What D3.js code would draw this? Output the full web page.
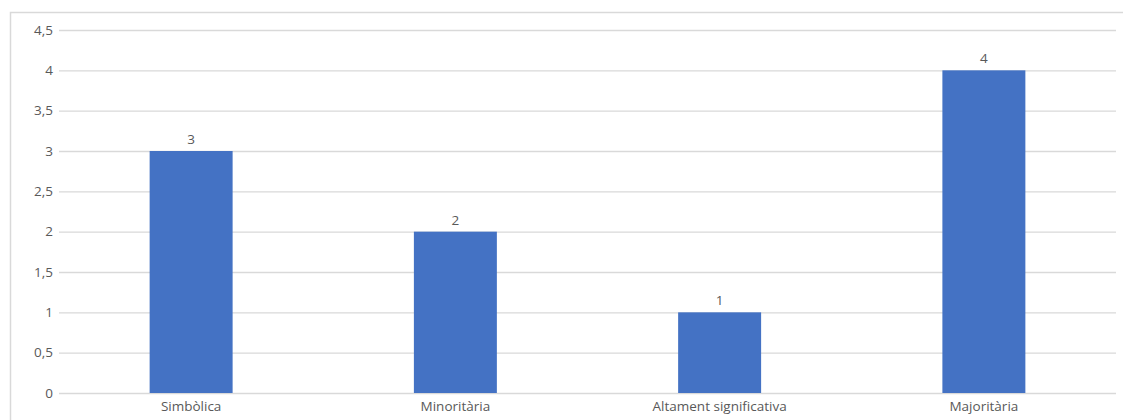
<!DOCTYPE html>
<html>
<head>
<meta charset="utf-8">
<script src="https://cdn.jsdelivr.net/npm/d3@7"></script>
<style>
  body { margin: 0; background: #fff; }
  svg text { font-family: "Open Sans", Lato, sans-serif; fill: #595959; }
</style>
</head>
<body>
<div id="chart"></div>
<script>
var categories = ["Simbòlica", "Minoritària", "Altament significativa", "Majoritària"];
var values = [3, 2, 1, 4];
var yTicks = [0, 0.5, 1, 1.5, 2, 2.5, 3, 3.5, 4, 4.5];

var width = 1123, height = 420;
var margin = {top: 30, right: 7, bottom: 27, left: 59};

var svg = d3.select("#chart")
  .append("svg")
  .attr("width", width)
  .attr("height", height);

// chart frame (left and top edges are visible)
svg.append("rect")
  .attr("x", 10.5)
  .attr("y", 12.5)
  .attr("width", width)
  .attr("height", height)
  .style("fill", "none")
  .style("stroke", "#d9d9d9")
  .style("stroke-width", 1.5);

var xScale = d3.scaleBand()
  .domain(categories)
  .range([margin.left, width - margin.right])
  .paddingInner(0.686)
  .paddingOuter(0.343);

var yScale = d3.scaleLinear()
  .domain([0, 4.5])
  .range([height - margin.bottom, margin.top]);

var fmt = d => d3.format("")(d).replace(".", ",");

// Y grid
var yGrid = d3.axisLeft(yScale)
  .tickValues(yTicks)
  .tickSize(-(width - margin.left - margin.right))
  .tickFormat("");

svg.append("g")
  .attr("transform", `translate(${margin.left},0)`)
  .attr("class", "grid")
  .call(yGrid)
  .call(g => g.select(".domain").remove())
  .selectAll("line")
  .style("stroke", "#d9d9d9")
  .style("stroke-width", 1.3);

// Y axis labels
svg.append("g")
  .attr("transform", `translate(${margin.left},0)`)
  .call(d3.axisLeft(yScale).tickValues(yTicks).tickSize(0).tickPadding(6).tickFormat(fmt))
  .call(g => g.select(".domain").remove())
  .selectAll("text")
  .style("font-size", "13.5px")
  .style("fill", "#595959");

// Bars
svg.selectAll(".bar")
  .data(values)
  .enter()
  .append("rect")
  .attr("class", "bar")
  .attr("x", (d, i) => xScale(categories[i]))
  .attr("y", d => yScale(d))
  .attr("width", xScale.bandwidth())
  .attr("height", d => yScale(0) - yScale(d))
  .style("fill", "#4472c4");

// Value labels
svg.selectAll(".value")
  .data(values)
  .enter()
  .append("text")
  .attr("class", "value")
  .attr("x", (d, i) => xScale(categories[i]) + xScale.bandwidth() / 2)
  .attr("y", d => yScale(d) - 7)
  .style("text-anchor", "middle")
  .style("font-size", "13.5px")
  .text(d => fmt(d));

// X axis labels
svg.append("g")
  .attr("transform", `translate(0,${height - margin.bottom})`)
  .call(d3.axisBottom(xScale).tickSize(0).tickPadding(8))
  .call(g => g.select(".domain").remove())
  .selectAll("text")
  .style("font-size", "13.5px")
  .style("fill", "#595959");
</script>
</body>
</html>
